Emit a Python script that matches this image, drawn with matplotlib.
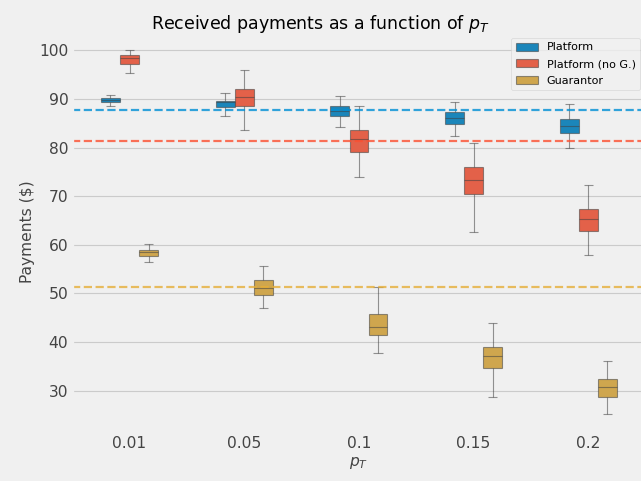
import colorsys
import matplotlib
matplotlib.use("Agg")
import matplotlib.pyplot as plt
import matplotlib.colors as mcolors
from matplotlib.patches import Patch

plt.style.use("fivethirtyeight")

p_t_labels = ["0.01", "0.05", "0.1", "0.15", "0.2"]
series_names = ["Platform", "Platform (no G.)", "Guarantor"]

# box stats
platform_whislo = [88.5, 86.6, 84.3, 82.4, 80.0]
platform_q1 = [89.4, 88.3, 86.6, 84.8, 83.1]
platform_med = [89.8, 89.3, 87.6, 86.1, 84.5]
platform_q3 = [90.3, 89.7, 88.5, 87.4, 85.8]
platform_whishi = [90.9, 91.3, 90.7, 89.4, 89.0]

nog_whislo = [95.3, 83.6, 73.9, 62.6, 57.9]
nog_q1 = [97.2, 88.5, 79.1, 70.5, 62.9]
nog_med = [98.4, 90.4, 81.8, 73.3, 65.3]
nog_q3 = [99.0, 92.0, 83.6, 76.1, 67.4]
nog_whishi = [100.0, 96.0, 88.5, 81.0, 72.3]

guar_whislo = [56.5, 46.9, 37.7, 28.7, 25.2]
guar_q1 = [57.7, 49.6, 41.4, 34.6, 28.7]
guar_med = [58.5, 51.1, 43.1, 37.2, 30.7]
guar_q3 = [58.9, 52.8, 45.7, 38.9, 32.3]
guar_whishi = [60.1, 55.7, 51.4, 43.8, 36.0]

# overall averages (dashed lines)
mean_platform = 87.7
mean_nog = 81.4
mean_guarantor = 51.4

base_colors = ["#008fd5", "#fc4f30", "#e5ae38"]


def desat(c, prop=0.75):
    h, l, s = colorsys.rgb_to_hls(*mcolors.to_rgb(c))
    return colorsys.hls_to_rgb(h, l, s * prop)


box_colors = [desat(c) for c in base_colors]
gray = (0.25, 0.25, 0.25, 0.55)
lw = 1.0

stats_all = [
    (platform_whislo, platform_q1, platform_med, platform_q3, platform_whishi),
    (nog_whislo, nog_q1, nog_med, nog_q3, nog_whishi),
    (guar_whislo, guar_q1, guar_med, guar_q3, guar_whishi),
]

fig = plt.figure(figsize=(641 / 80, 481 / 80), dpi=80)
ax = fig.add_axes([72.2 / 641, (481 - 431.8) / 481, 573.5 / 641, 399.3 / 481])

w = 0.5 / 3
for k, (lo, q1, med, q3, hi) in enumerate(stats_all):
    stats = []
    for i in range(len(p_t_labels)):
        stats.append({"whislo": lo[i], "q1": q1[i], "med": med[i],
                      "q3": q3[i], "whishi": hi[i], "fliers": []})
    pos = [i + (k - 1) * w for i in range(len(p_t_labels))]
    ax.bxp(stats, positions=pos, widths=w * 0.98, patch_artist=True,
           showfliers=False, capwidths=[w * 0.49] * len(pos),
           boxprops=dict(facecolor=box_colors[k], edgecolor=gray, linewidth=lw),
           whiskerprops=dict(color=gray, linewidth=lw),
           capprops=dict(color=gray, linewidth=lw),
           medianprops=dict(color=gray, linewidth=lw),
           manage_ticks=False)

for m, c in zip([mean_platform, mean_nog, mean_guarantor], base_colors):
    ax.axhline(m, color=c, linestyle="--", linewidth=2, alpha=0.8)

ax.set_xticks(range(len(p_t_labels)))
ax.set_xticklabels(p_t_labels)
ax.set_xlim(-0.5, 4.5)
ax.set_ylim(21.5, 103.7)
ax.xaxis.grid(False)
ax.tick_params(labelsize=14, colors="#444444")
ax.set_xlabel("$p_T$", fontsize=14, color="#444444")
ax.set_ylabel("Payments ($)", fontsize=14, color="#444444")
fig.suptitle("Received payments as a function of $p_T$", fontsize=15.7, y=0.972)

handles = [Patch(facecolor=box_colors[k], edgecolor=gray, linewidth=lw, label=series_names[k])
           for k in range(3)]
ax.legend(handles=handles, loc="upper right", fontsize=10, labelspacing=0.6)

fig.savefig("out.png", dpi=80, facecolor=fig.get_facecolor())
